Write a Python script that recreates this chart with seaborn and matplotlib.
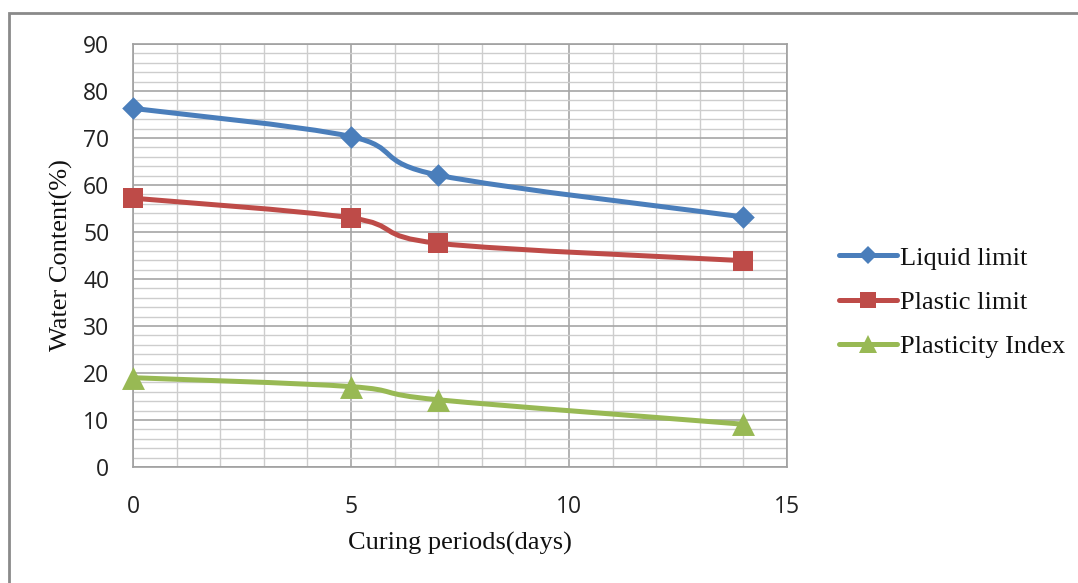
import numpy as np
import pandas as pd
import matplotlib
matplotlib.use("Agg")
import matplotlib.pyplot as plt
import seaborn as sns
from matplotlib.path import Path
from matplotlib.patches import PathPatch, Rectangle
from matplotlib.lines import Line2D
from matplotlib.ticker import MultipleLocator

# ---- data ----
days = [0, 5, 7, 14]
liquid_limit = [76.3, 70.3, 62.1, 53.2]
plastic_limit = [57.2, 53.0, 47.6, 43.9]
plasticity_index = [19.0, 17.1, 14.3, 9.1]
series_names = ["Liquid limit", "Plastic limit", "Plasticity Index"]
x_ticks = [0, 5, 10, 15]
y_ticks = [0, 10, 20, 30, 40, 50, 60, 70, 80, 90]
x_label = "Curing periods(days)"
y_label = "Water Content(%)"

colors = ["#4A7EBB", "#BE4B48", "#98B954"]
markers = ["D", "s", "^"]
msizes = [11.5, 14.5, 16.5]

df = pd.DataFrame({
    "days": days * 3,
    "value": liquid_limit + plastic_limit + plasticity_index,
    "series": sum([[n] * len(days) for n in series_names], []),
})

sns.set_theme(style="white")
plt.rcParams["font.family"] = ["Open Sans", "DejaVu Sans"]

W, H = 1078, 583
fig = plt.figure(figsize=(W / 100, H / 100), dpi=100)
ax = fig.add_axes([133 / W, 1 - 467 / H, (787 - 133) / W, (467 - 44) / H])

ax.set_xlim(0, 15)
ax.set_ylim(0, 90)
ax.xaxis.set_major_locator(MultipleLocator(5))
ax.xaxis.set_minor_locator(MultipleLocator(1))
ax.yaxis.set_major_locator(MultipleLocator(10))
ax.yaxis.set_minor_locator(MultipleLocator(2))
ax.grid(which="minor", color="#CDCDCD", linewidth=1.0)
ax.grid(which="major", color="#A6A6A6", linewidth=1.2)
ax.set_axisbelow(True)
for s in ax.spines.values():
    s.set_color("#A0A0A0")
    s.set_linewidth(1.2)


def smooth_path(xs, ys):
    pts = np.column_stack([xs, ys]).astype(float)
    n = len(pts)
    verts = [pts[0]]
    codes = [Path.MOVETO]
    for i in range(n - 1):
        p0 = pts[i - 1] if i > 0 else pts[i]
        p1 = pts[i]
        p2 = pts[i + 1]
        p3 = pts[i + 2] if i + 2 < n else pts[i + 1]
        c1 = p1 + (p2 - p0) / 6.0
        c2 = p2 - (p3 - p1) / 6.0
        verts += [c1, c2, p2]
        codes += [Path.CURVE4] * 3
    return Path(verts, codes)


for name, c in zip(series_names, colors):
    sub = df[df["series"] == name]
    patch = PathPatch(smooth_path(sub["days"].values, sub["value"].values),
                      transform=ax.transData, fill=False, edgecolor=c,
                      linewidth=3.6, capstyle="round", joinstyle="round", zorder=3)
    ax.add_patch(patch)

for name, c, m, ms in zip(series_names, colors, markers, msizes):
    sub = df[df["series"] == name]
    sns.scatterplot(data=sub, x="days", y="value", marker=m, s=ms ** 2,
                    color=c, edgecolor=c, linewidth=0, ax=ax, zorder=4, legend=False)
for coll in ax.collections:
    coll.set_clip_on(False)

ax.set_xticks(x_ticks)
ax.set_yticks(y_ticks)
ax.tick_params(axis="x", which="both", length=0, pad=20, labelsize=16.5, colors="#222222")
ax.tick_params(axis="y", which="both", length=0, pad=17, labelsize=16.5, colors="#222222")
ax.set_xlabel("")
ax.set_ylabel("")

fig.text(460 / W, 1 - 543 / H, x_label, ha="center", va="center",
         family=["Liberation Serif", "DejaVu Serif"], fontsize=19, color="#111111")
fig.text(61 / W, 1 - 255 / H, y_label, ha="center", va="center", rotation=90,
         family=["Liberation Serif", "DejaVu Serif"], fontsize=19, color="#111111")

handles = [Line2D([0], [0], color=c, lw=3.6, marker=m, markersize=ms * 0.78,
                  markeredgewidth=0)
           for c, m, ms in zip(colors, markers, msizes)]
leg = fig.legend(handles, series_names, loc="center left",
                 bbox_to_anchor=(839 / W, 1 - 302 / H), frameon=False,
                 borderpad=0, borderaxespad=0, handlelength=2.2, handletextpad=0.12,
                 labelspacing=0.78,
                 prop={"family": ["Liberation Serif", "DejaVu Serif"], "size": 19})
for t in leg.get_texts():
    t.set_color("#111111")

fig.patches.append(Rectangle((9 / W, -0.2), 1.5, 1.2 - 13 / H + 0.0,
                             transform=fig.transFigure, fill=False,
                             edgecolor="#8A8A8A", linewidth=2.0, clip_on=False))

fig.savefig("out.png", dpi=100, facecolor="white")
